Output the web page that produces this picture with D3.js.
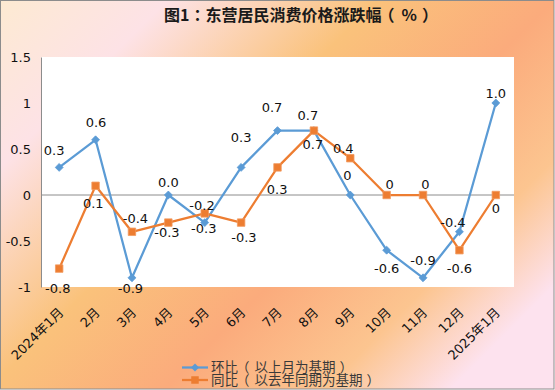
<!DOCTYPE html>
<html>
<head>
<meta charset="utf-8">
<script src="https://cdn.jsdelivr.net/npm/d3@7"></script>
<style>
  html, body { margin: 0; padding: 0; }
  svg { display: block; }
  text { font-family: "DejaVu Sans", "Noto Sans CJK SC", sans-serif; }
</style>
</head>
<body>
<svg id="chart" width="555" height="390"></svg>
<script>
const categories = ["2024年1月","2月","3月","4月","5月","6月","7月","8月","9月","10月","11月","12月","2025年1月"];
const momValues = [0.3, 0.6, -0.9, 0.0, -0.3, 0.3, 0.7, 0.7, 0, -0.6, -0.9, -0.4, 1.0];
const momLabels = ["0.3","0.6","-0.9","0.0","-0.3","0.3","0.7","0.7","0","-0.6","-0.9","-0.4","1.0"];
const yoyValues = [-0.8, 0.1, -0.4, -0.3, -0.2, -0.3, 0.3, 0.7, 0.4, 0, 0, -0.6, 0];
const yoyLabels = ["-0.8","0.1","-0.4","-0.3","-0.2","-0.3","0.3","0.7","0.4","0","0","-0.6","0"];
const yTicks = [-1, -0.5, 0, 0.5, 1, 1.5];
const yTickLabels = ["-1","-0.5","0","0.5","1","1.5"];
const seriesNames = ["环比（以上月为基期）", "同比（以去年同期为基期）"];
const title = "图1：东营居民消费价格涨跌幅（%）";

// layout: data label offsets [dx, dy] in px relative to each point (manual placement as in the reference)
const momLabelOffset = [[-5,-12],[0.5,-13],[-1.5,15],[0,-8],[-1,10],[0,-25],[-5.5,-18.6],[-1,18.7],[-3,-15],[0,22.5],[0,-12.8],[-6.5,-5],[0,-4.7]];
const yoyLabelOffset = [[-1.4,24.4],[-2.3,22],[3.5,-8.5],[-1.4,14],[-2.7,-3.4],[2.8,19.7],[-0.3,27],[-6,-10.6],[-7,-5],[3,-5.7],[2.4,-5.7],[0,22.5],[0,18.3]];

const W = 555, H = 390;
const plot = {left: 41, right: 514, top: 57, bottom: 287};
const blue = "#5B9BD5", orange = "#ED7D31";
const CJK = "'Noto Sans CJK TC', 'Noto Sans CJK SC', 'DejaVu Sans', sans-serif";
const LAT = "'DejaVu Sans', 'Noto Sans CJK SC', sans-serif";

// write a CJK string with centred full-width parentheses (as the reference font shows them)
function cjkText(sel, str, openShift, openGap, closeGap) {
  const parts = str.split(/([（）])/).filter(s => s.length);
  let pendingDx = 0;
  parts.forEach(p => {
    let dx = pendingDx; pendingDx = 0;
    if (p === "（") { dx += openShift; pendingDx = openGap; }
    else if (p === "）") { dx += closeGap; }
    sel.append("tspan").attr("dx", dx || null).text(p);
  });
}

const svg = d3.select("#chart");
const defs = svg.append("defs");
const grad = defs.append("linearGradient").attr("id", "bg")
  .attr("gradientUnits", "userSpaceOnUse")
  .attr("x1", 0).attr("y1", 0).attr("x2", 420).attr("y2", 420);
[[0, "#fdead2"], [0.2, "#fde2e6"], [0.45, "#fac27b"], [0.66, "#fbab7c"], [0.85, "#fcc590"], [1, "#fde2ee"]]
  .forEach(([o, c]) => grad.append("stop").attr("offset", o).attr("stop-color", c));

svg.append("rect").attr("x", 0.5).attr("y", 0.5).attr("width", W - 1.5).attr("height", H - 1.5)
  .attr("fill", "url(#bg)").attr("stroke", "#8c8c8c").attr("stroke-width", 1);

const titleText = svg.append("text").attr("x", 164).attr("y", 21).attr("text-anchor", "start")
  .style("font-family", CJK)
  .attr("font-size", 16).attr("font-weight", "bold").attr("fill", "#1a1a1a");
cjkText(titleText, title, -3, 7, 5);

svg.append("rect").attr("x", plot.left).attr("y", plot.top)
  .attr("width", plot.right - plot.left).attr("height", plot.bottom - plot.top).attr("fill", "#fff");

const x = d3.scaleBand().domain(categories).range([plot.left, plot.right]);
const y = d3.scaleLinear().domain([-1, 1.5]).range([plot.bottom, plot.top]);
const cx = c => x(c) + x.bandwidth() / 2;

// y axis
const yAxis = d3.axisLeft(y).tickValues(yTicks).tickSize(0).tickPadding(10)
  .tickFormat((d, i) => yTickLabels[i]);
const yg = svg.append("g").attr("transform", `translate(${plot.left},0)`).call(yAxis);
yg.select(".domain").attr("stroke", "#8c8c8c").attr("stroke-width", 1);
yg.selectAll("text").attr("font-size", 13).attr("fill", "#111").style("font-family", LAT);

// zero line
svg.append("line").attr("x1", plot.left).attr("x2", plot.right)
  .attr("y1", y(0)).attr("y2", y(0)).attr("stroke", "#8c8c8c").attr("stroke-width", 1);

// x labels
const xAxis = d3.axisBottom(x).tickSize(0).tickPadding(0);
const xg = svg.append("g").attr("transform", `translate(0,${plot.bottom})`).call(xAxis);
xg.select(".domain").remove();
xg.selectAll("text")
  .attr("font-size", 13).attr("fill", "#111").style("font-family", LAT)
  .attr("text-anchor", "end")
  .attr("dy", "0.35em")
  .attr("transform", "translate(2,23) rotate(-45)");

function drawSeries(vals, color, marker) {
  const line = d3.line().x((d, i) => cx(categories[i])).y(d => y(d));
  svg.append("path").datum(vals).attr("d", line).attr("fill", "none")
    .attr("stroke", color).attr("stroke-width", 2.25).attr("stroke-linejoin", "round");
  const sym = d3.symbol().type(marker === "diamond" ? d3.symbolDiamond2 : d3.symbolSquare)
    .size(marker === "diamond" ? 40 : 56);
  svg.append("g").selectAll("path").data(vals).join("path")
    .attr("d", sym)
    .attr("transform", (d, i) => `translate(${cx(categories[i])},${y(d)})`)
    .attr("fill", color)
    .attr("stroke", marker === "diamond" ? color : "#f29a60").attr("stroke-width", 0.8);
}
drawSeries(momValues, blue, "diamond");
drawSeries(yoyValues, orange, "square");

function drawLabels(vals, labels, offs) {
  svg.append("g").selectAll("text").data(vals).join("text")
    .attr("x", (d, i) => cx(categories[i]) + offs[i][0])
    .attr("y", (d, i) => y(d) + offs[i][1])
    .attr("text-anchor", "middle").attr("font-size", 13).attr("fill", "#111")
    .style("font-family", LAT)
    .text((d, i) => labels[i]);
}
drawLabels(momValues, momLabels, momLabelOffset);
drawLabels(yoyValues, yoyLabels, yoyLabelOffset);

// legend
const legend = [{name: seriesNames[0], color: blue, m: "diamond", yy: 367.5},
                {name: seriesNames[1], color: orange, m: "square", yy: 380}];
legend.forEach(l => {
  svg.append("line").attr("x1", 182).attr("x2", 208).attr("y1", l.yy).attr("y2", l.yy)
    .attr("stroke", l.color).attr("stroke-width", 2.25);
  svg.append("path")
    .attr("d", d3.symbol().type(l.m === "diamond" ? d3.symbolDiamond2 : d3.symbolSquare).size(l.m === "diamond" ? 40 : 56))
    .attr("transform", `translate(195,${l.yy})`).attr("fill", l.color);
  const t = svg.append("text").attr("x", 211).attr("y", l.yy).attr("dy", "0.36em")
    .style("font-family", CJK)
    .attr("font-size", 13.5).attr("fill", "#3a3a3a");
  cjkText(t, l.name, -2, 5, 4);
});
</script>
</body>
</html>
